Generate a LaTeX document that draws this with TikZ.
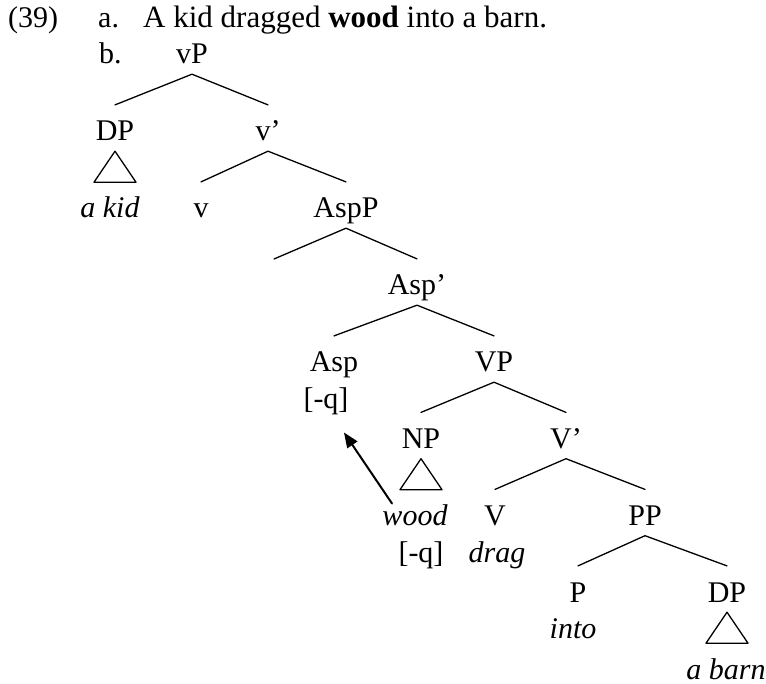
\documentclass[tikz,border=0pt]{standalone}
\usepackage{fontspec}
\setmainfont{Liberation Serif}
\usetikzlibrary{arrows.meta}
\tikzset{
	lab/.style={inner sep=0pt, anchor=base, text height=35.9pt, text depth=10pt},
	feat/.style={inner sep=0pt, anchor=base},
	branch/.style={line width=1.3pt}
}
\begin{document}
\begin{tikzpicture}[x=1pt, y=-1pt, >={Triangle[length=15pt,width=12pt]}, font=\fontsize{30}{36}\selectfont, line join=round, line cap=round]
			\def\tria#1{\draw[branch] (#1.south) -- ++(-21,31) -- ++(42,0) -- cycle;} % tam giac
			\useasboundingbox (0,0) rectangle (766,684);
			\node[feat, anchor=base west] (num) at (8,28) {(39)};
			\node[feat, anchor=base west] (ia) at (98,28) {a.};
			\node[feat, anchor=base west, font=\fontsize{31}{36}\selectfont] (sent) at (143,28) {A kid dragged \textbf{wood} into a barn.};
			\node[feat, anchor=base west] (ib) at (99,64) {b.};
			% cay
			\node[lab] (vP) at (192,64) {vP};
			\node[lab] (DPa) at (115,141) {DP};
			\node[lab] (vbar) at (268,141) {v’};
			\node[lab] (kid) at (110,218) {\itshape a kid};
			\node[lab] (v) at (201,218) {v};
			\node[lab] (AspP) at (346,218) {AspP};
			\coordinate (spec) at (274,259);
			\node[lab] (Aspbar) at (417,295) {Asp’};
			\node[lab] (Asp) at (334,372) {Asp};
			\node[feat] (qAsp) at (326,408.5) {[-q]};
			\node[lab] (VP) at (494,372) {VP};
			\node[lab] (NP) at (421,448.5) {NP};
			\node[lab] (Vbar) at (566,448.5) {V’};
			\node[lab] (wood) at (415,525.5) {\itshape wood};
			\node[feat] (qwood) at (421,562) {[-q]};
			\node[lab] (V) at (495,525.5) {V};
			\node[feat] (drag) at (497,562) {\itshape drag};
			\node[lab] (PP) at (645,525.5) {PP};
			\node[lab] (P) at (578,602) {P};
			\node[feat] (into) at (573,638.5) {\itshape into};
			\node[lab] (DPb) at (727,602) {DP};
			\node[lab] (barn) at (726,679) {\itshape a barn};
			\draw[branch] (DPa.north) -- (vP.south) -- (vbar.north);
			\draw[branch] (v.north) -- (vbar.south) -- (AspP.north);
			\draw[branch] (spec) -- (AspP.south) -- (Aspbar.north);
			\draw[branch] (Asp.north) -- (Aspbar.south) -- (VP.north);
			\draw[branch] (NP.north) -- (VP.south) -- (Vbar.north);
			\draw[branch] (V.north) -- (Vbar.south) -- (PP.north);
			\draw[branch] (P.north) -- (PP.south) -- (DPb.north);
			\tria{DPa} \tria{NP} \tria{DPb}
			\draw[->, line width=2pt] ([shift={(-23,-22)}]wood.base) -- ([shift={(18,24)}]qAsp.base);
\end{tikzpicture}
\end{document}
